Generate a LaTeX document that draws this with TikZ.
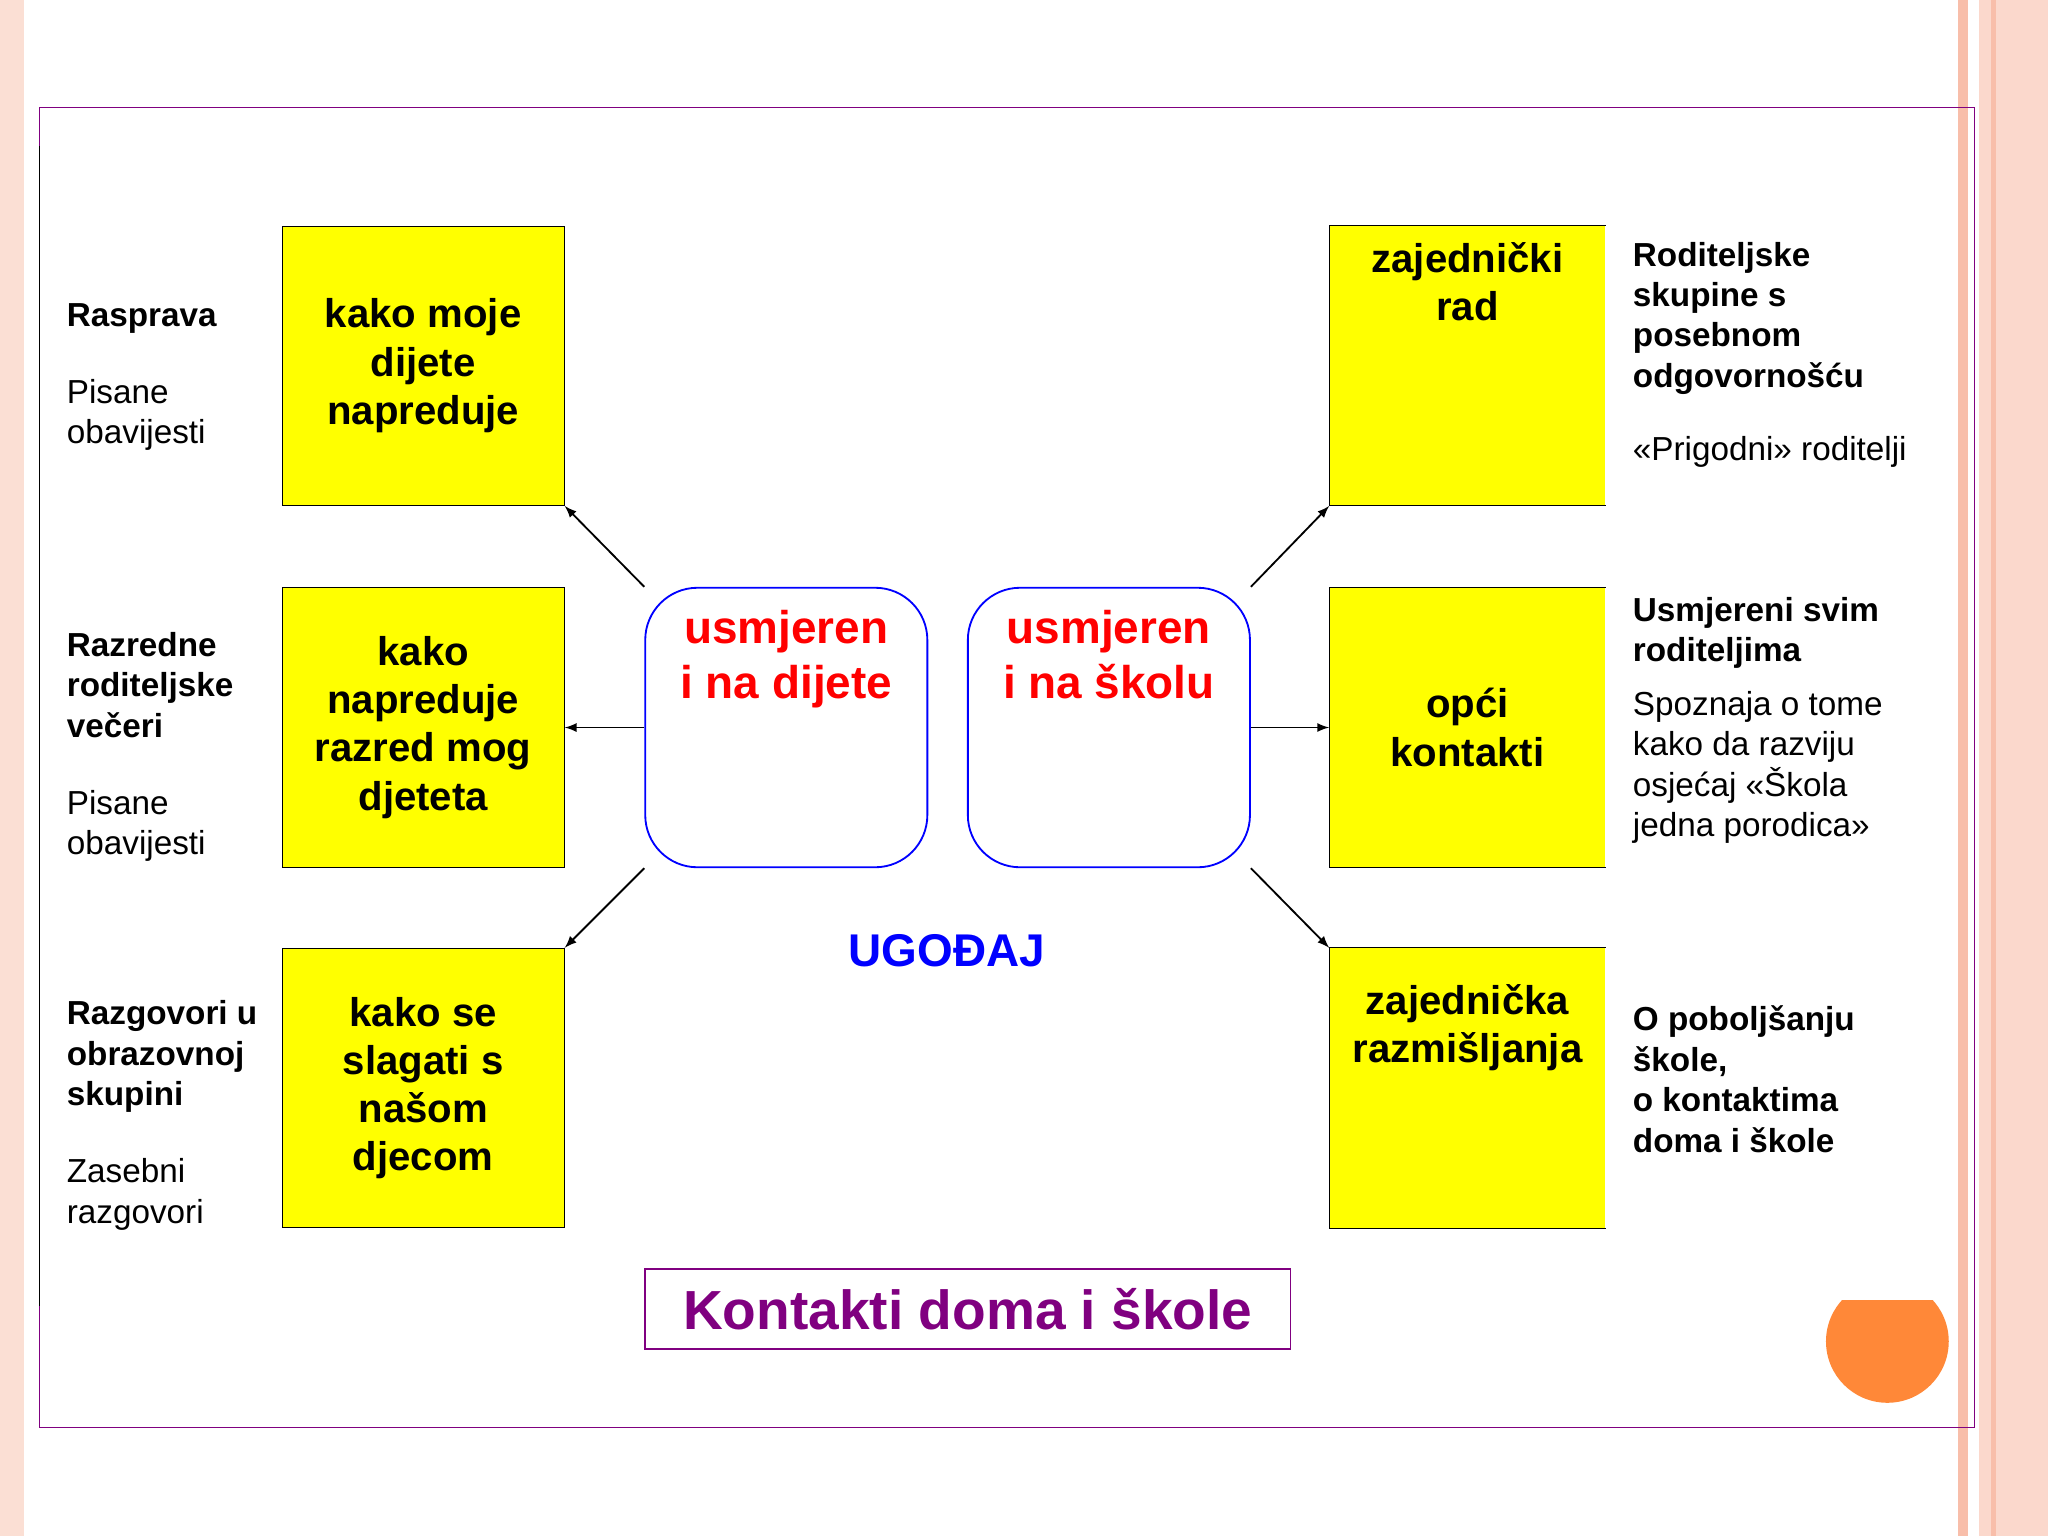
\documentclass[tikz,border=0pt]{standalone}
\usepackage{fontspec}
\setmainfont{Liberation Sans}
\definecolor{ybox}{RGB}{255,255,0}
\definecolor{frm}{RGB}{128,0,128}
\definecolor{salmon}{RGB}{248,190,170}
\definecolor{orng}{RGB}{255,136,56}
\begin{document}
\begin{tikzpicture}[x=0.02cm,y=-0.02cm,
  ybx/.style={fill=ybox,minimum width=216*0.02cm,minimum height=214*0.02cm,inner sep=0pt,align=center,font=\fontsize{17.5}{21}\selectfont\bfseries},
  rbx/.style={draw=blue,thick,rounded corners=0.8cm,fill=white,minimum width=216*0.02cm,minimum height=214*0.02cm,align=center,text=red,font=\fontsize{20}{24}\selectfont\bfseries},
  side/.style={anchor=north west,align=left,font=\fontsize{14.5}{17.6}\selectfont},
  arr/.style={-latex,thick}]
\useasboundingbox (0,0) rectangle (1568,1176);
\fill[white] (0,0) rectangle (1568,1176);
\fill[salmon!50] (0,0) rectangle (18,1176);
\fill[salmon] (1499,0) rectangle (1507,1176);
\fill[salmon!60] (1515,0) rectangle (1568,1176);
\fill[salmon] (1524,0) rectangle (1528,1176);
\draw[frm] (30,82) rectangle (1512,1093);
\draw[black] (30,112) -- (30,1000);
% yellow boxes
\foreach \n/\y/\t in {l1/280/{kako moje\\dijete\\napreduje}, l2/557/{kako\\napreduje\\razred mog\\djeteta}, l3/833/{kako se\\slagati s\\našom\\djecom}}{
  \node[ybx,draw=black] (\n) at (324,\y) {\t};}
\foreach \n/\y/\t in {r1/280/{zajednički\\rad\\[3em]}, r2/557/{opći\\kontakti}, r3/833/{zajednička\\razmišljanja\\[2em]}}{
  \node[ybx,minimum width=211*0.02cm] (\n) at (1123.5,\y) {\t};
  \draw (\n.north east) -- (\n.north west) -- (\n.south west) -- (\n.south east);}
\node[rbx] (c1) at (602,557) {usmjeren\\i na dijete\\[2em]};
\node[rbx] (c2) at (849,557) {usmjeren\\i na školu\\[2em]};
\draw[arr] (c1.north west) -- (l1.south east);
\draw[arr] (c1.west) -- (l2.east);
\draw[arr] (c1.south west) -- (l3.north east);
\draw[arr] (c2.north east) -- (r1.south west);
\draw[arr] (c2.east) -- (r2.west);
\draw[arr] (c2.south east) -- (r3.north west);
\node[text=blue,font=\fontsize{20}{24}\selectfont\bfseries] (ug) at (725,728) {UGOĐAJ};
\node[draw=frm,thick,minimum width=494*0.02cm,minimum height=61*0.02cm,text=frm,font=\fontsize{24}{28}\selectfont\bfseries] (tt) at (741,1002) {Kontakti doma i škole};
\begin{scope}
\clip (1390,996) rectangle (1500,1080);
\fill[orng] (1445,1027) circle (47);
\end{scope}
% side texts
\node[side] (s1) at (45,226) {\textbf{Rasprava}\\[1.1em]Pisane\\obavijesti};
\node[side] (s2) at (45,478) {\textbf{Razredne}\\\textbf{roditeljske}\\\textbf{večeri}\\[1.1em]Pisane\\obavijesti};
\node[side] (s3) at (45,760) {\textbf{Razgovori u}\\\textbf{obrazovnoj}\\\textbf{skupini}\\[1.1em]Zasebni\\razgovori};
\node[side] (s4) at (1244,179) {\textbf{Roditeljske}\\\textbf{skupine s}\\\textbf{posebnom}\\\textbf{odgovornošću}\\[1em]«Prigodni» roditelji};
\node[side] (s5) at (1244,451) {\textbf{Usmjereni svim}\\\textbf{roditeljima}\\[0.4em]Spoznaja o tome\\kako da razviju\\osjećaj «Škola\\jedna porodica»};
\node[side] (s6) at (1244,764) {\textbf{O poboljšanju}\\\textbf{škole,}\\\textbf{o kontaktima}\\\textbf{doma i škole}};
\end{tikzpicture}
\end{document}
